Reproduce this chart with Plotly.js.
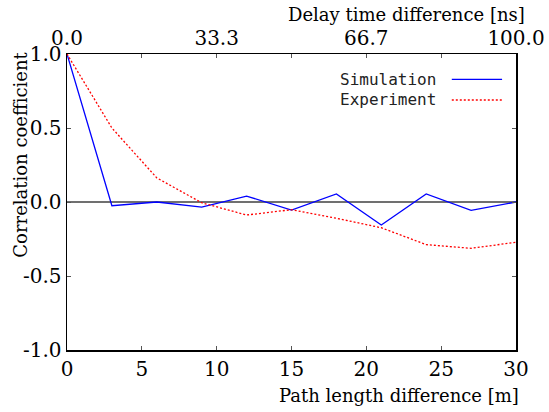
<!DOCTYPE html>
<html>
<head>
<meta charset="utf-8">
<script src="https://cdn.plot.ly/plotly-3.0.1.min.js"></script>
<style>
html,body{margin:0;padding:0;background:#fff;}
#chart{width:549px;height:412px;}
</style>
</head>
<body>
<div id="chart"></div>
<script>
// Data
const pathLength = [0, 3, 6, 9, 12, 15, 18, 21, 24, 27, 30];
const simulation = [1.0, -0.025, 0.0, -0.035, 0.04, -0.055, 0.055, -0.155, 0.055, -0.057, 0.0];
const experiment = [1.0, 0.50, 0.163, -0.005, -0.088, -0.052, -0.11, -0.174, -0.288, -0.313, -0.272];

const bottomTickVals = [0, 5, 10, 15, 20, 25, 30];
const bottomTickText = ['0', '5', '10', '15', '20', '25', '30'];
const topTickVals = [0, 5, 10, 15, 20, 25, 30];
const topTickText = ['0.0', '', '33.3', '', '66.7', '', '100.0'];
const yTickVals = [-1, -0.5, 0, 0.5, 1];
const yTickText = ['-1.0', '-0.5', '0.0', '0.5', '1.0'];

const legendNames = ['Simulation', 'Experiment'];
const lineColors = ['#0000ff', '#ff0000'];

const serif = 'DejaVu Serif';
const mono = 'DejaVu Sans Mono';
const tickSize = 20;
const titleSize = 18;

const serifText = (t) => '<span style="font-family:DejaVu Serif">' + t + '</span>';

const traces = [
  {x: pathLength, y: simulation, type: 'scatter', mode: 'lines', name: legendNames[0],
   line: {color: lineColors[0], width: 1.3}, showlegend: false, xaxis: 'x', yaxis: 'y'},
  {x: pathLength, y: experiment, type: 'scatter', mode: 'lines', name: legendNames[1],
   line: {color: lineColors[1], width: 1.3, dash: '2px,2px'}, showlegend: false, xaxis: 'x', yaxis: 'y'},
  {x: [0], y: [null], type: 'scatter', mode: 'lines', xaxis: 'x2', yaxis: 'y', showlegend: false, hoverinfo: 'skip'}
];

const layout = {
  width: 549, height: 412,
  margin: {l: 67, r: 33, t: 54, b: 62, pad: 0},
  paper_bgcolor: '#fff', plot_bgcolor: '#fff',
  showlegend: false,
  font: {family: serif, size: tickSize, color: '#000'},
  xaxis: {
    range: [0, 30], tickvals: bottomTickVals, ticktext: bottomTickText,
    ticks: 'inside', ticklen: 4, tickcolor: '#555', tickwidth: 1,
    showline: true, linecolor: '#000', linewidth: 1.5, mirror: false,
    showgrid: false, zeroline: false,
    tickfont: {family: serif, size: tickSize, color: '#000'}
  },
  xaxis2: {
    overlaying: 'x', side: 'top', range: [0, 30], anchor: 'y',
    tickvals: topTickVals, ticktext: topTickText,
    ticks: 'inside', ticklen: 4, tickcolor: '#555', tickwidth: 1,
    showline: true, linecolor: '#000', linewidth: 1.5,
    showgrid: false, zeroline: false,
    tickfont: {family: serif, size: tickSize, color: '#000'}
  },
  yaxis: {
    range: [-1, 1], tickvals: yTickVals, ticktext: yTickText,
    ticks: 'inside', ticklen: 4, tickcolor: '#555', tickwidth: 1,
    showline: true, linecolor: '#000', linewidth: 1.5, mirror: 'ticks',
    showgrid: false, zeroline: true, zerolinecolor: '#707070', zerolinewidth: 2,
    tickfont: {family: serif, size: tickSize, color: '#000'}
  },
  annotations: [
    {text: serifText('Path length difference [m]'), xref: 'paper', yref: 'paper', x: 1.0105, y: -0.155,
     xanchor: 'right', yanchor: 'middle', showarrow: false, font: {family: serif, size: titleSize, color: '#000'}},
    {text: serifText('Delay time difference [ns]'), xref: 'paper', yref: 'paper', x: 1.024, y: 1.135,
     xanchor: 'right', yanchor: 'middle', showarrow: false, font: {family: serif, size: titleSize, color: '#000'}},
    {text: serifText('Correlation coefficient'), xref: 'paper', yref: 'paper', x: -0.103, y: 0.659, textangle: -90,
     xanchor: 'center', yanchor: 'middle', showarrow: false, font: {family: serif, size: titleSize, color: '#000'}},
    {text: legendNames[0], xref: 'paper', yref: 'paper', x: 0.8265, y: 0.9145,
     xanchor: 'right', yanchor: 'middle', showarrow: false, font: {family: mono, size: 16, color: '#222'}},
    {text: legendNames[1], xref: 'paper', yref: 'paper', x: 0.8265, y: 0.8446,
     xanchor: 'right', yanchor: 'middle', showarrow: false, font: {family: mono, size: 16, color: '#222'}}
  ],
  shapes: [
    {type: 'line', xref: 'paper', yref: 'paper', x0: 0.857, x1: 0.969, y0: 0.9145, y1: 0.9145,
     line: {color: lineColors[0], width: 1.3}},
    {type: 'line', xref: 'paper', yref: 'paper', x0: 0.857, x1: 0.969, y0: 0.8446, y1: 0.8446,
     line: {color: lineColors[1], width: 1.3, dash: '2px,2px'}}
  ]
};

Plotly.newPlot('chart', traces, layout, {displayModeBar: false, staticPlot: true});
</script>
</body>
</html>
